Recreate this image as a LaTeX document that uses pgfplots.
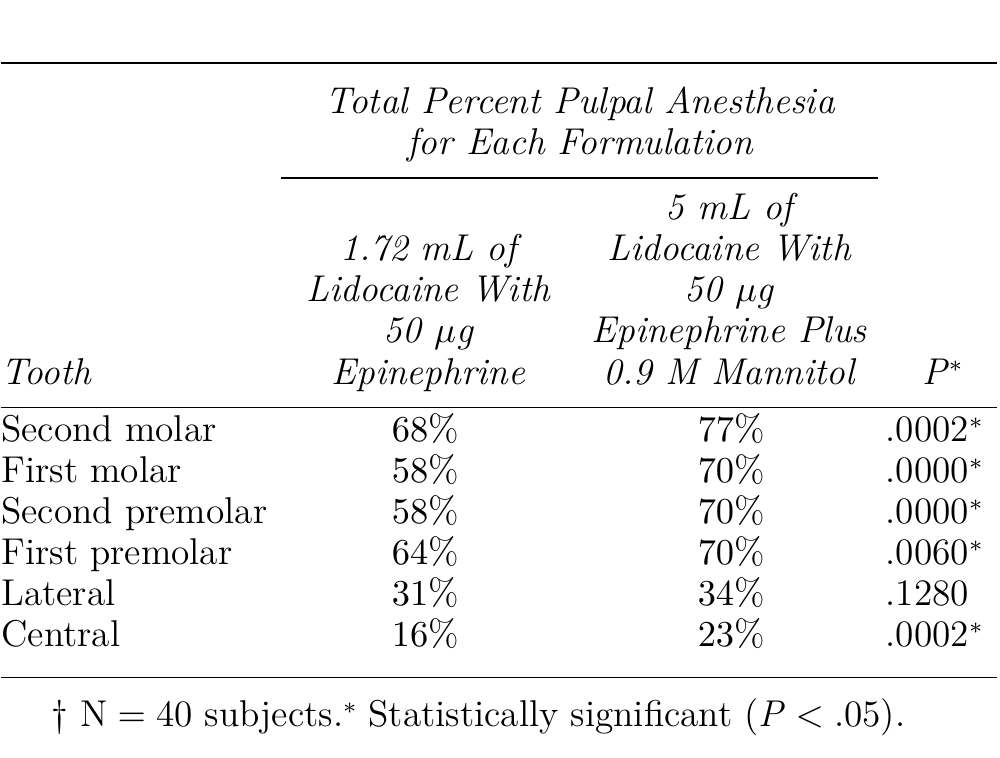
\documentclass[border=0pt]{standalone}
\usepackage{pgfplots}
\pgfplotsset{compat=1.18}
\tikzset{hdr/.style={anchor=base, inner sep=0pt, font=\itshape}}
\newcommand\sig{\raisebox{0.4ex}{\scriptsize *}}

\begin{document}
\fontsize{11.2}{13}\selectfont
\begin{tikzpicture}
\begin{axis}[
  width=300pt, height=227.4pt, scale only axis,
  xmin=0, xmax=1000, ymin=0, ymax=758, y dir=reverse,
  hide axis, clip=false,
  every node near coord/.append style={inner sep=0pt},
]
% page frame (invisible)
\path (axis cs:0,0) rectangle (axis cs:1000,758);
% rules
\draw[line width=0.45pt] (axis cs:0,63) -- (axis cs:997,63);
\draw[line width=0.45pt] (axis cs:280,178) -- (axis cs:878,178);
\draw[line width=0.45pt] (axis cs:0,408) -- (axis cs:997,408);
\draw[line width=0.45pt] (axis cs:0,678) -- (axis cs:997,678);

% header
\node[hdr] at (axis cs:580,114) {Total Percent Pulpal Anesthesia};
\node[hdr] at (axis cs:580,155) {for Each Formulation};
\node[hdr, anchor=base west] at (axis cs:0,385) {Tooth};
\node[hdr] at (axis cs:428,261) {1.72 mL of};
\node[hdr] at (axis cs:428,302) {Lidocaine With};
\node[hdr] at (axis cs:428,343) {50 $\mu$g};
\node[hdr] at (axis cs:428,385) {Epinephrine};
\node[hdr] at (axis cs:729,220) {5 mL of};
\node[hdr] at (axis cs:729,261) {Lidocaine With};
\node[hdr] at (axis cs:729,302) {50 $\mu$g};
\node[hdr] at (axis cs:729,343) {Epinephrine Plus};
\node[hdr] at (axis cs:729,385) {0.9 M Mannitol};
\node[anchor=base, inner sep=0pt] at (axis cs:942,385) {\textit{P}\sig};

% tooth names
\addplot[draw=none, mark=none, point meta=explicit symbolic, nodes near coords,
  every node near coord/.append style={anchor=base west}] coordinates {
  (0,442) [Second molar]
  (0,483) [First molar]
  (0,524) [Second premolar]
  (0,565) [First premolar]
  (0,606) [Lateral]
  (0,647) [Central]
};

% 1.72 mL formulation
\addplot[draw=none, mark=none, point meta=explicit,
  nodes near coords={\pgfmathprintnumber{\pgfplotspointmeta}\%},
  every node near coord/.append style={anchor=base}] table[meta=v] {
x y v
425 442 68
425 483 58
425 524 58
425 565 64
425 606 31
425 647 16
};

% 5 mL formulation
\addplot[draw=none, mark=none, point meta=explicit,
  nodes near coords={\pgfmathprintnumber{\pgfplotspointmeta}\%},
  every node near coord/.append style={anchor=base}] table[meta=v] {
x y v
731 442 77
731 483 70
731 524 70
731 565 70
731 606 34
731 647 23
};

% P values
\addplot[draw=none, mark=none, point meta=explicit symbolic, nodes near coords,
  every node near coord/.append style={anchor=base west}] coordinates {
  (885,442) [{.0002\sig}]
  (885,483) [{.0000\sig}]
  (885,524) [{.0000\sig}]
  (885,565) [{.0060\sig}]
  (885,606) [{.1280}]
  (885,647) [{.0002\sig}]
};

% footnote
\node[anchor=base west, inner sep=0pt] at (axis cs:50,727)
  {\textdagger{} N${}={}$40 subjects.\sig{} Statistically significant (\textit{P}${}<{}$.05).};
\end{axis}
\end{tikzpicture}
\end{document}
